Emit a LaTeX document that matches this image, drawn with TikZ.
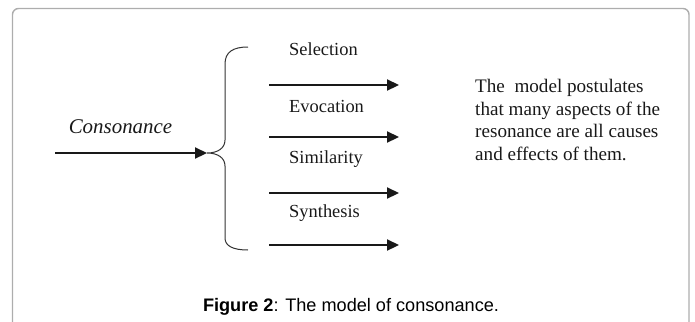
\documentclass[tikz,border=0pt]{standalone}
\usepackage{fontspec}
\setmainfont{Liberation Serif}
\newfontfamily\capfont{Liberation Sans}
\usetikzlibrary{arrows.meta}
\begin{document}
\begin{tikzpicture}[x=1bp,y=-1bp,
  frame/.style={draw=black!32,line width=1.4bp,rounded corners=6bp},
  lbl/.style={anchor=base west,inner sep=0,font=\fontsize{18.5}{22}\selectfont,text=black!90},
  flow/.style={draw=black!90,line width=2.2bp,-{Triangle[length=12bp,width=11bp]}},
  bracestyle/.style={draw=black!80,line width=1bp}]
\useasboundingbox (0,0) rectangle (695,321);
\begin{scope}
\clip (0,0) rectangle (695,321);
\draw[frame] (12.5,330) -- (12.5,8.5) -- (689,8.5) -- (689,330);
\end{scope}
% input
\node[anchor=base,inner sep=0,font=\fontsize{21}{24}\selectfont\itshape,text=black!90] (cons) at (120.5,133) {Consonance};
\coordinate (inA) at (55,153);
\coordinate (tip) at (207,153);
\draw[flow] (inA) -- (tip);
% brace
\coordinate (btop) at (248,47);
\coordinate (bbot) at (248,250);
\draw[bracestyle] (btop) .. controls (233,47) and (225,52) .. (225,64)
  -- (225,140) .. controls (225,148) and (218,153) .. (tip)
  .. controls (218,153) and (225,158) .. (225,166)
  -- (225,238) .. controls (225,246) and (233,250) .. (bbot);
% arrows
\foreach \y/\n in {85/a,137/b,193/c,245/d}{
  \coordinate (s\n) at (269,\y);
  \coordinate (e\n) at (399,\y);
  \draw[flow] (s\n) -- (e\n);
}
% labels
\node[lbl] (sel) at (289,55) {Selection};
\node[lbl] (evo) at (289,112) {Evocation};
\node[lbl] (sim) at (289,163) {Similarity};
\node[lbl] (syn) at (289,217) {Synthesis};
% description
\node[anchor=north west,align=left,inner sep=0,font=\fontsize{19.2}{22.7}\selectfont,text=black!90] (desc) at (475,79)
  {The\ \ model postulates\\that many aspects of the\\resonance are all causes\\and effects of them.};
% caption
\node[anchor=base,inner sep=0,font=\capfont\fontsize{18.2}{22}\selectfont] (cap) at (351,311.5)
  {\textbf{Figure 2}: The model of consonance.};
\end{tikzpicture}
\end{document}
